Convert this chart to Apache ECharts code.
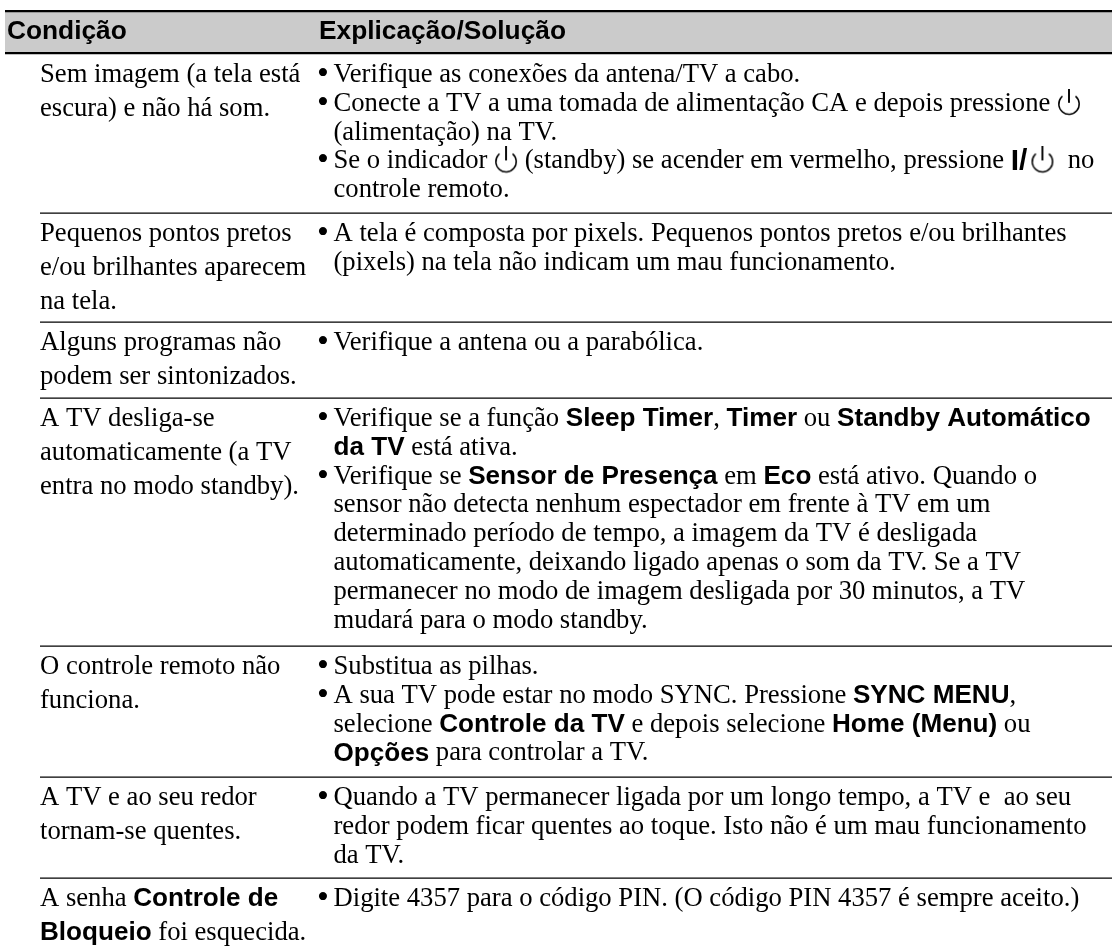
<!DOCTYPE html>
<html>
<head>
<meta charset="utf-8">
<style>
  html, body { margin: 0; padding: 0; background: #fff; }
  #chart { width: 1112px; height: 947px; }
</style>
<script src="https://cdn.jsdelivr.net/npm/echarts@6/dist/echarts.min.js"></script>
</head>
<body>
<div id="chart"></div>
<script>
let headers = ['Condição', 'Explicação/Solução']

// {b|..} negrito, {p| } icone de alimentacao, {s|..} botao I/
let conditions = [
  ['Sem imagem (a tela está', 'escura) e não há som.'],
  ['Pequenos pontos pretos', 'e/ou brilhantes aparecem', 'na tela.'],
  ['Alguns programas não', 'podem ser sintonizados.'],
  ['A TV desliga-se', 'automaticamente (a TV', 'entra no modo standby).'],
  ['O controle remoto não', 'funciona.'],
  ['A TV e ao seu redor', 'tornam-se quentes.'],
  ['A senha {b|Controle de}', '{b|Bloqueio} foi esquecida.']
]
let solutions = [
  ['• Verifique as conexões da antena/TV a cabo.',
    '• Conecte a TV a uma tomada de alimentação CA e depois pressione {p| }',
    '(alimentação) na TV.',
    '• Se o indicador {p| } (standby) se acender em vermelho, pressione {s|I/}{p| }  no',
    'controle remoto.'],
  ['• A tela é composta por pixels. Pequenos pontos pretos e/ou brilhantes',
    '(pixels) na tela não indicam um mau funcionamento.'],
  ['• Verifique a antena ou a parabólica.'],
  ['• Verifique se a função {b|Sleep Timer}, {b|Timer} ou {b|Standby Automático}',
    '{b|da TV} está ativa.',
    '• Verifique se {b|Sensor de Presença} em {b|Eco} está ativo. Quando o',
    'sensor não detecta nenhum espectador em frente à TV em um',
    'determinado período de tempo, a imagem da TV é desligada',
    'automaticamente, deixando ligado apenas o som da TV. Se a TV',
    'permanecer no modo de imagem desligada por 30 minutos, a TV',
    'mudará para o modo standby.'],
  ['• Substitua as pilhas.',
    '• A sua TV pode estar no modo SYNC. Pressione {b|SYNC MENU},',
    'selecione {b|Controle da TV} e depois selecione {b|Home (Menu)} ou',
    '{b|Opções} para controlar a TV.'],
  ['• Quando a TV permanecer ligada por um longo tempo, a TV e  ao seu',
    'redor podem ficar quentes ao toque. Isto não é um mau funcionamento',
    'da TV.'],
  ['• Digite 4357 para o código PIN. (O código PIN 4357 é sempre aceito.)']
]

const SERIF = '"Liberation Serif", serif'
const SANS = '"Liberation Sans", sans-serif'
const FONT_SIZE = 26.65
const BOLD_SIZE = 26.1
const PITCH_LEFT = 34
const PITCH_RIGHT = 28.8
const FIRST_LINE = 21
// topo de cada linha da tabela
const ROW_TOPS = [54, 213, 322, 398, 646, 777, 878]

// desenha o simbolo de alimentacao num canvas para usar como imagem no rich text
function powerIcon () {
  let c = document.createElement('canvas')
  c.width = 24
  c.height = 30
  let ctx = c.getContext('2d')
  ctx.strokeStyle = '#000'
  ctx.lineWidth = 1.5
  ctx.beginPath()
  ctx.arc(12, 15.3, 10.2, -Math.PI * 0.28, Math.PI * 1.28)
  ctx.stroke()
  ctx.lineWidth = 1.9
  ctx.beginPath()
  ctx.moveTo(12, 0)
  ctx.lineTo(12, 14)
  ctx.stroke()
  return c
}

let rich = {
  b: { fontFamily: SANS, fontWeight: 'bold', fontSize: BOLD_SIZE, fill: '#000' },
  s: { fontFamily: SANS, fontWeight: 'bold', fontSize: 30, fill: '#000', padding: [0, 3, 0, 0] },
  p: { width: 24, height: 30, backgroundColor: { image: powerIcon() } }
}

function textEl (x, y, text, opts) {
  return {
    type: 'text',
    x: x,
    y: y,
    silent: true,
    style: Object.assign({
      text: text,
      fill: '#000',
      font: FONT_SIZE + 'px ' + SERIF,
      verticalAlign: 'middle',
      rich: rich
    }, opts || {})
  }
}

function rectEl (x, y, w, h, color) {
  return { type: 'rect', silent: true, shape: { x: x, y: y, width: w, height: h }, style: { fill: color } }
}

let elements = []
elements.push(rectEl(5, 12, 1107, 41, '#cbcbcb'))
elements.push(rectEl(5, 10, 1107, 2.3, '#000'))
elements.push(rectEl(5, 52, 1107, 2.3, '#000'))
elements.push(textEl(7, 32, headers[0], { font: 'bold 26.3px ' + SANS }))
elements.push(textEl(319, 32, headers[1], { font: 'bold 26.3px ' + SANS }))

conditions.forEach(function (cond, i) {
  let y0 = ROW_TOPS[i] + FIRST_LINE
  if (i > 0) {
    elements.push(rectEl(40, ROW_TOPS[i] - 0.6, 1072, 1.3, '#000'))
  }
  cond.forEach(function (line, k) {
    elements.push(textEl(40, y0 + k * PITCH_LEFT, line))
  })
  solutions[i].forEach(function (line, k) {
    let y = y0 + k * PITCH_RIGHT
    if (line.indexOf('• ') === 0) {
      elements.push(textEl(317, y, '•', { font: '34px ' + SERIF }))
      line = line.slice(2)
    }
    elements.push(textEl(333.5, y, line))
  })
})

let myChart = echarts.init(document.getElementById('chart'))
myChart.setOption({
  animation: false,
  graphic: { elements: elements }
})
</script>
</body>
</html>
